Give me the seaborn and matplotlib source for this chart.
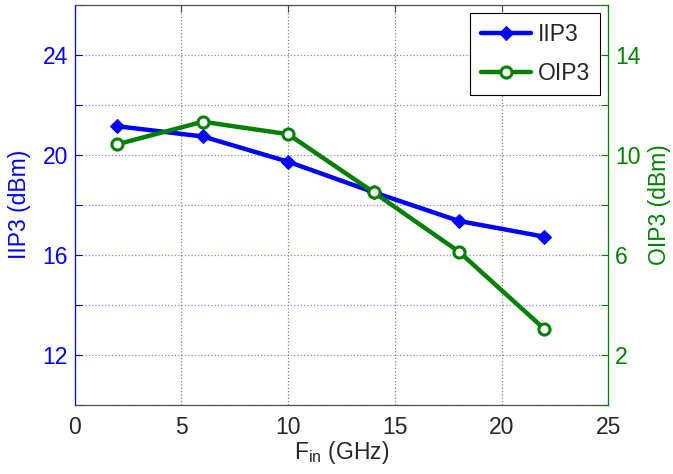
import matplotlib
matplotlib.use("Agg")
import matplotlib.pyplot as plt
import seaborn as sns
import pandas as pd

freq = [2, 6, 10, 14, 18, 22]
iip3 = [21.14, 20.73, 19.72, 18.5, 17.35, 16.72]
oip3 = [10.42, 11.32, 10.82, 8.5, 6.12, 3.03]

x_ticks = [0, 5, 10, 15, 20, 25]
left_ticks = [10, 12, 14, 16, 18, 20, 22, 24, 26]
left_labels = ["", "12", "", "16", "", "20", "", "24", ""]
right_ticks = [0, 2, 4, 6, 8, 10, 12, 14, 16]
right_labels = ["", "2", "", "6", "", "10", "", "14", ""]

sns.set_style("white")
plt.rcParams["font.family"] = ["Liberation Sans", "DejaVu Sans"]
plt.rcParams["mathtext.fontset"] = "custom"
plt.rcParams["mathtext.rm"] = "Liberation Sans"
plt.rcParams["mathtext.it"] = "Liberation Sans"

BLUE = "#0000ff"
GREEN = "#008000"
FS = 16.5

df = pd.DataFrame({"freq": freq, "IIP3": iip3, "OIP3": oip3})

fig = plt.figure(figsize=(6.73, 4.74), dpi=100)
ax = fig.add_axes([0.111, 0.1462, 0.793, 0.8438])
ax2 = ax.twinx()

sns.lineplot(data=df, x="freq", y="IIP3", ax=ax, color=BLUE, lw=3.2, marker="D",
             markersize=7, markeredgecolor=BLUE, markerfacecolor=BLUE, label="IIP3",
             legend=False)
sns.lineplot(data=df, x="freq", y="OIP3", ax=ax2, color=GREEN, lw=3.2, marker="o",
             markersize=8, markeredgewidth=2.2, markeredgecolor=GREEN,
             markerfacecolor="white", label="OIP3", legend=False)

ax.set_xlim(0, 25)
ax.set_ylim(10, 26)
ax2.set_ylim(0, 16)
ax.set_xticks(x_ticks)
ax.set_xticklabels([str(t) for t in x_ticks], fontsize=FS)
ax.set_yticks(left_ticks)
ax.set_yticklabels(left_labels, fontsize=FS, color=BLUE)
ax2.set_yticks(right_ticks)
ax2.set_yticklabels(right_labels, fontsize=FS, color=GREEN)

ax.grid(True, axis="x", linestyle=":", color="#808080", lw=0.9)
ax.grid(True, axis="y", linestyle=":", color="#8080ff", lw=0.9)
ax.set_axisbelow(True)

ax.tick_params(axis="x", direction="in", length=5, top=True, color="#404040", pad=8)
ax.tick_params(axis="y", direction="in", length=5, colors=BLUE, pad=5)
ax2.tick_params(axis="y", direction="in", length=5, colors=GREEN, pad=5)

for s in ["top", "bottom"]:
    ax.spines[s].set_color("#505050")
    ax2.spines[s].set_visible(False)
ax.spines["left"].set_color(BLUE)
ax.spines["right"].set_visible(False)
ax2.spines["left"].set_visible(False)
ax2.spines["right"].set_color(GREEN)
for sp in list(ax.spines.values()) + list(ax2.spines.values()):
    sp.set_linewidth(0.9)

ax.set_xlabel("F$_{\\mathrm{in}}$ (GHz)", fontsize=FS, labelpad=0)
ax.set_ylabel("IIP3 (dBm)", fontsize=FS, color=BLUE, labelpad=8)
ax2.set_ylabel("OIP3 (dBm)", fontsize=FS, color=GREEN, labelpad=5)

h1, l1 = ax.get_legend_handles_labels()
h2, l2 = ax2.get_legend_handles_labels()
leg = ax2.legend(h1 + h2, l1 + l2, loc="upper right", fontsize=FS, frameon=True,
                 fancybox=False, edgecolor="black", framealpha=1, handlelength=2.2,
                 borderaxespad=0.35, borderpad=0.45, labelspacing=0.7, handletextpad=0.3)
leg.get_frame().set_linewidth(0.8)

fig.savefig("out.png", dpi=100)
